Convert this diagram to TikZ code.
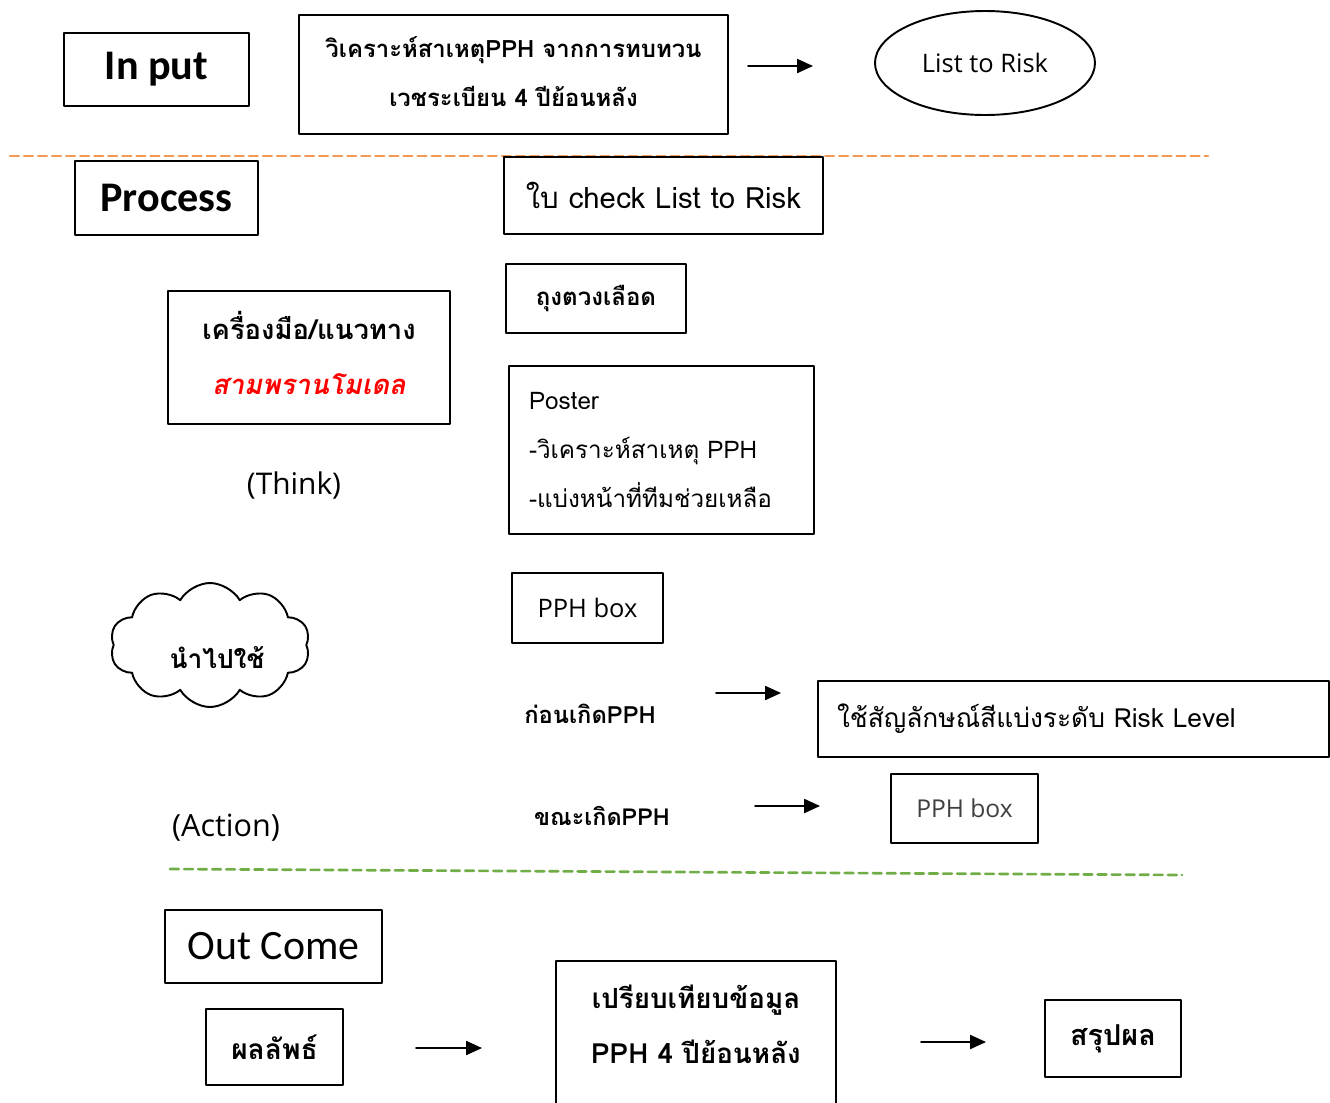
\documentclass[tikz,border=0pt]{standalone}
\usepackage{fontspec}
\setmainfont[Script=Thai]{Loma}
\newfontfamily\headfont{Carlito}
\newfontfamily\uifont{Open Sans}
\usetikzlibrary{arrows.meta,shapes.geometric,shapes.symbols}
\newdimen\pu \pu=0.02cm
\definecolor{cutorange}{HTML}{F29A55}
\definecolor{cutgreen}{HTML}{70AD47}
\newcommand{\fsz}[1]{\fontsize{#1}{1.2\dimexpr#1pt\relax}\selectfont}

\begin{document}
\begin{tikzpicture}[x=0.02cm, y=-0.02cm, line cap=round, line join=round, >=Latex]
\tikzset{box/.style 2 args={draw, line width=1.1pt, minimum width=#1\pu, minimum height=#2\pu, inner sep=0pt},
  arr/.style={-{Triangle[length=9pt,width=8pt]}, line width=0.9pt},
  cut/.style={dash pattern=on 5pt off 3pt, line width=1.5pt}}
\useasboundingbox (0,0) rectangle (1330,1103);

% input row
\node[box={185}{73}, font=\headfont\bfseries\fsz{24}] (input) at (156.5,69.5) {In put};
\node[box={429}{119}, align=center, font=\bfseries\fontsize{13.6}{28}\selectfont] (cause) at (513.5,74.5)
  {วิเคราะห์สาเหตุPPH จากการทบทวน\\เวชระเบียน 4 ปีย้อนหลัง\\[-25pt]};
\node[ellipse, draw, line width=1.1pt, minimum width=220\pu, minimum height=104\pu, font=\uifont\fsz{14.5}] (listrisk) at (985,63) {List to Risk};
\coordinate (a1s) at (748,66);
\coordinate (a1e) at (813,66);
\draw[arr] (a1s) -- (a1e);

\draw[cut, cutorange] (10,156) -- (1208,156);

% process
\node[box={183}{74}, font=\headfont\bfseries\fsz{24}] (process) at (166.5,198) {Process};
\node[box={319}{77}, font=\fsz{16.7}] (checklist) at (663.5,195.5) {ใบ check List to Risk};
\node[box={180}{69}, font=\bfseries\fsz{13.7}] (bag) at (596,298.5) {ถุงตวงเลือด};
\node[box={282}{133}, align=center, font=\bfseries\fontsize{15.6}{31}\selectfont] (tool) at (309,357.5)
  {เครื่องมือ/แนวทาง\\\textcolor{red}{\addfontfeature{FakeSlant=0.2}สามพรานโมเดล}\\[-25.5pt]};
\node[font=\uifont\fsz{17}] (think) at (294,486) {(Think)};
\node[box={305}{168}, align=left, text width=265\pu, font=\fontsize{13.8}{28}\selectfont] (poster) at (661.5,450)
  {Poster\\-วิเคราะห์สาเหตุ PPH\\-แบ่งหน้าที่ทีมช่วยเหลือ};

% action
\node[cloud, draw, line width=1.1pt, cloud puffs=10, cloud puff arc=120, aspect=1.6,
  minimum width=200\pu, minimum height=124\pu, inner sep=0pt] (cloud) at (210,645) {};
\node[font=\bfseries\fsz{15}] (apply) at (217,658) {นำไปใช้};
\node[box={151}{70}, font=\uifont\fsz{14.5}] (pph1) at (587.5,608) {PPH box};
\node[font=\bfseries\fsz{13.5}] (before) at (590,714) {ก่อนเกิดPPH};
\node[box={511}{76}, align=left, text width=473\pu, font=\fsz{15}] (risk) at (1073.5,719) {ใช้สัญลักษณ์สีแบ่งระดับ Risk Level};
\coordinate (a2s) at (716,693);
\coordinate (a2e) at (781,693);
\draw[arr] (a2s) -- (a2e);
\node[font=\uifont\fsz{17.4}] (action) at (226,828) {(Action)};
\node[font=\bfseries\fsz{13.3}] (during) at (602,816) {ขณะเกิดPPH};
\node[box={147}{69}, font=\uifont\fsz{14}, text=black!75] (pph2) at (964.5,808.5) {PPH box};
\coordinate (a3s) at (755,806);
\coordinate (a3e) at (820,806);
\draw[arr] (a3s) -- (a3e);

\draw[cut, cutgreen] (170,869) -- (1182,875);

% outcome
\node[box={217}{73}, font=\headfont\fsz{23.8}] (outcome) at (273.5,946.5) {Out Come};
\node[box={137}{76}, font=\bfseries\fsz{16}] (result) at (274.5,1047) {ผลลัพธ์};
\node[box={280}{170}, anchor=north] (compare) at (696,960) {};
\node[align=center, font=\bfseries\fontsize{15.8}{31}\selectfont] (comparetxt) at (696,1024.5)
  {เปรียบเทียบข้อมูล\\PPH 4 ปีย้อนหลัง};
\node[box={136}{77}, font=\bfseries\fsz{16.4}] (summary) at (1113,1038.5) {สรุปผล};
\coordinate (a4s) at (416,1048);
\coordinate (a4e) at (482,1048);
\draw[arr] (a4s) -- (a4e);
\coordinate (a5s) at (921,1042);
\coordinate (a5e) at (986,1042);
\draw[arr] (a5s) -- (a5e);
\end{tikzpicture}
\end{document}
